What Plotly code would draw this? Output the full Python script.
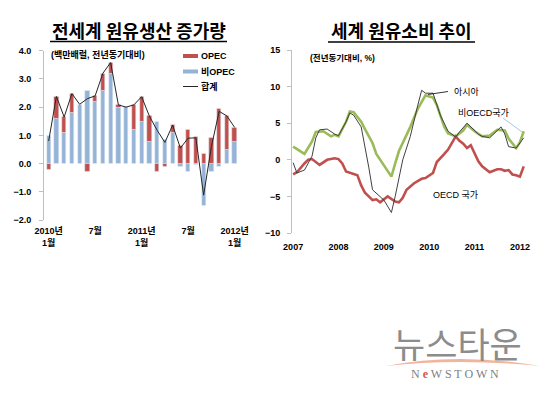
import plotly.graph_objects as go

W, H = 550, 395
def px(x): return x / W
def py(y): return 1 - y / H

# ---------------- Left chart: 전세계 원유생산 증가량 ----------------
prod_months = ["2010-01", "2010-02", "2010-03", "2010-04", "2010-05", "2010-06",
               "2010-07", "2010-08", "2010-09", "2010-10", "2010-11", "2010-12",
               "2011-01", "2011-02", "2011-03", "2011-04", "2011-05", "2011-06",
               "2011-07", "2011-08", "2011-09", "2011-10", "2011-11", "2011-12",
               "2012-01"]
non_opec = [1.00, 1.60, 1.10, 1.80, 2.10, 2.60, 2.20, 2.60, 3.20, 1.97, 2.00, 1.20,
            1.48, 0.77, 1.48, 0.85, 1.10, -0.12, -0.30, -0.05, -1.48, -0.30, -0.10,
            0.48, 0.77]
opec = [-0.20, 0.78, 0.55, 0.68, 0.00, -0.30, 0.20, 0.60, 0.38, 0.13, 0.00, 0.88,
        0.89, 0.91, -0.30, -0.12, 0.28, 0.65, 1.20, 0.95, 0.36, 0.90, 1.95,
        1.20, 0.50]
total = [0.80, 2.38, 1.65, 2.48, 2.10, 2.30, 2.40, 3.20, 3.58, 2.08, 2.00, 2.08,
         2.37, 1.68, 1.18, 0.75, 1.36, 0.55, 0.90, 0.91, -1.12, 0.60, 1.85,
         1.69, 1.28]
prod_tickpos = [0, 6, 12, 18, 24]
prod_ticktext = ["2010년<br>1월", "7월", "2011년<br>1월", "7월", "2012년<br>1월"]
prod_x = list(range(len(prod_months)))

# ---------------- Right chart: 세계 원유소비 추이 ----------------
# x = months since Jan 2007
oecd_m = [0, 1, 3, 4, 5, 7, 9, 11, 12, 13, 14, 16, 17, 18, 19, 20, 21, 22, 23, 25,
          26, 27, 28, 29, 30, 32, 34, 35, 37, 38, 40, 41, 43, 44, 45, 46, 47, 48,
          49, 50, 52, 53, 54, 55, 56, 57, 58, 59, 60, 61]
oecd_v = [-2.0, -1.7, -0.5, 0.0, 0.1, -0.7, 0.0, 0.2, 0.1, -0.5, -1.6, -1.9, -2.1,
          -3.5, -4.5, -5.0, -5.5, -5.4, -5.8, -5.0, -5.4, -5.7, -5.8, -5.2, -4.1,
          -3.2, -2.6, -2.5, -1.8, -0.3, 0.8, 1.4, 3.2, 2.6, 2.2, 1.6, 2.0, 0.9,
          -0.2, -0.9, -1.7, -1.5, -1.3, -1.3, -1.5, -1.4, -2.0, -2.1, -2.3, -0.9]
nonoecd_m = [0, 2, 3, 5, 6, 8, 10, 11, 12, 14, 15, 16, 18, 19, 20, 21, 22, 24, 26,
             27, 28, 31, 33, 35, 37, 38, 40, 41, 43, 45, 46, 48, 50, 52, 54, 56,
             57, 59, 60, 61]
nonoecd_v = [1.8, 1.2, 0.8, 2.5, 3.8, 3.9, 3.2, 3.4, 3.2, 5.2, 6.6, 6.5, 5.2, 4.2,
             3.3, 2.3, 0.8, -0.8, -2.3, -0.5, 1.2, 4.5, 7.0, 8.8, 8.5, 7.5, 4.5,
             3.6, 3.2, 4.0, 4.8, 3.9, 3.2, 3.3, 4.1, 4.0, 2.9, 1.6, 2.4, 3.9]
asia_m = [0, 1, 3, 5, 6, 7, 9, 10, 11, 12, 14, 15, 16, 18, 19, 20, 21, 23, 24, 26,
          27, 29, 31, 33, 34, 35, 37, 39, 41, 43, 44, 46, 47, 49, 50, 52, 54, 55,
          56, 57, 59, 61]
asia_v = [-0.4, -1.8, -1.4, 0.5, 3.0, 4.1, 4.2, 3.8, 3.5, 3.3, 5.2, 6.4, 6.1, 4.5,
          2.0, -1.0, -4.1, -5.0, -5.5, -7.2, -5.0, 0.0, 3.2, 7.5, 9.5, 9.1, 9.1,
          6.0, 3.9, 3.1, 3.8, 5.0, 4.5, 3.5, 3.2, 3.0, 4.0, 4.5, 3.5, 1.8, 1.6, 3.0]
cons_tickpos = [0, 12, 24, 36, 48, 60]
cons_ticktext = ["2007", "2008", "2009", "2010", "2011", "2012"]

RED = "#C0504D"
BLUE = "#95B3D7"
GREEN = "#9BBB59"
AXC = "#BFBFBF"
FONT = "Liberation Sans, Arial, Noto Sans CJK KR"
CJK = "Noto Sans CJK KR"

fig = go.Figure()

fig.add_trace(go.Bar(x=prod_x, y=non_opec, marker_color=BLUE, width=0.55,
                     name="비OPEC", xaxis="x", yaxis="y", showlegend=False))
fig.add_trace(go.Bar(x=prod_x, y=opec, marker_color=RED, width=0.55,
                     name="OPEC", xaxis="x", yaxis="y", showlegend=False))
fig.add_trace(go.Scatter(x=prod_x, y=total, mode="lines",
                         line=dict(color="#262626", width=1),
                         name="합계", xaxis="x", yaxis="y", showlegend=False))

fig.add_trace(go.Scatter(x=nonoecd_m, y=nonoecd_v, mode="lines",
                         line=dict(color=GREEN, width=2.6),
                         name="비OECD국가", xaxis="x2", yaxis="y2", showlegend=False))
fig.add_trace(go.Scatter(x=oecd_m, y=oecd_v, mode="lines",
                         line=dict(color=RED, width=2.6),
                         name="OECD 국가", xaxis="x2", yaxis="y2", showlegend=False))
fig.add_trace(go.Scatter(x=asia_m, y=asia_v, mode="lines",
                         line=dict(color="#404040", width=1),
                         name="아시아", xaxis="x2", yaxis="y2", showlegend=False))

tickfont = dict(family=FONT, size=9, color="#000000", weight="bold")

ldom_y = [py(220), py(50.7)]
rdom_y = [py(233), py(50)]
ldom_x = [px(44), px(238.5)]
rdom_x = [px(292), px(527.5)]

fig.update_layout(
    width=W, height=H,
    margin=dict(l=0, r=0, t=0, b=0),
    paper_bgcolor="white", plot_bgcolor="rgba(0,0,0,0)",
    barmode="relative", bargap=0,
    xaxis=dict(domain=ldom_x, range=[-0.6, 24.5], anchor="y",
               showline=False, showgrid=False, zeroline=False, ticks="",
               tickmode="array", tickvals=prod_tickpos, ticktext=prod_ticktext,
               tickfont=tickfont, ticklabelstandoff=4, automargin=False),
    yaxis=dict(domain=ldom_y, range=[-2, 4], anchor="x",
               showline=True, linecolor=AXC, linewidth=1, showgrid=False,
               zeroline=False, ticks="outside", ticklen=4, tickcolor=AXC,
               dtick=1, tickformat=".1f", tickfont=tickfont,
               ticklabelstandoff=6, automargin=False),
    xaxis3=dict(overlaying="x", anchor="free", position=py(163.3),
                range=[-0.6, 24.5], showline=True, linecolor=AXC, linewidth=1,
                showgrid=False, zeroline=False, ticks="outside", ticklen=3,
                tickcolor=AXC, tickmode="linear", tick0=0.5, dtick=1,
                showticklabels=False, automargin=False),
    xaxis2=dict(domain=rdom_x, range=[-0.3, 62], anchor="y2",
                showline=False, showgrid=False, zeroline=False, ticks="",
                tickmode="array", tickvals=cons_tickpos, ticktext=cons_ticktext,
                tickfont=tickfont, ticklabelstandoff=7, automargin=False),
    yaxis2=dict(domain=rdom_y, range=[-10, 15], anchor="x2",
                showline=True, linecolor=AXC, linewidth=1, showgrid=False,
                zeroline=False, ticks="outside", ticklen=4, tickcolor=AXC,
                dtick=5, tickfont=tickfont, ticklabelstandoff=5,
                automargin=False),
    xaxis4=dict(overlaying="x2", anchor="free", position=py(160),
                range=[-0.3, 62], showline=True, linecolor=AXC, linewidth=1,
                showgrid=False, zeroline=False, ticks="outside", ticklen=3,
                tickcolor=AXC, tickmode="array", tickvals=cons_tickpos,
                showticklabels=False, automargin=False),
)

ann = []
shapes = []

def text(t, x, y, size=9, family=FONT, color="#000", xanchor="left", yanchor="middle"):
    ann.append(dict(text=t, x=px(x), y=py(y), xref="paper", yref="paper",
                    xanchor=xanchor, yanchor=yanchor, showarrow=False,
                    font=dict(family=family, size=size, color=color)))

# titles
text("<b>전세계 원유생산 증가량</b>", 138.5, 30, size=18, family=CJK, xanchor="center")
shapes.append(dict(type="line", xref="paper", yref="paper",
                   x0=px(50), x1=px(227), y0=py(41.5), y1=py(41.5),
                   line=dict(color="#000", width=1.5)))
text("<b>세계 원유소비 추이</b>", 401.5, 30.5, size=18, family=CJK, xanchor="center")
shapes.append(dict(type="line", xref="paper", yref="paper",
                   x0=px(328), x1=px(475), y0=py(42), y1=py(42),
                   line=dict(color="#000", width=1.5)))

# subtitles
text("<b>(백만배럴, 전년동기대비)</b>", 49, 55, size=9)
text("<b>(전년동기대비, %)</b>", 308, 57.5, size=8.5)

# left legend (manual)
leg_items = [("OPEC", RED, "bar", 56), ("비OPEC", BLUE, "bar", 71.5), ("합계", "#262626", "line", 86.5)]
for label, col, kind, yy in leg_items:
    if kind == "bar":
        shapes.append(dict(type="rect", xref="paper", yref="paper",
                           x0=px(183), x1=px(198), y0=py(yy - 2), y1=py(yy + 2),
                           fillcolor=col, line=dict(width=0)))
    else:
        shapes.append(dict(type="line", xref="paper", yref="paper",
                           x0=px(183), x1=px(198), y0=py(yy), y1=py(yy),
                           line=dict(color=col, width=1)))
    text("<b>" + label + "</b>", 199, yy, size=9)

# right series labels
text("아시아", 452, 92, size=9)
shapes.append(dict(type="line", xref="paper", yref="paper",
                   x0=px(428), y0=py(94.5), x1=px(448), y1=py(91.5),
                   line=dict(color="#000", width=0.8)))
text("비OECD국가", 456, 113.5, size=9)
shapes.append(dict(type="line", xref="paper", yref="paper",
                   x0=px(503), y0=py(118), x1=px(522), y1=py(132),
                   line=dict(color="#8DB4E2", width=0.8)))
text("OECD 국가", 431, 195, size=9)

# watermark
text("뉴스타운", 457, 342, size=35, family=CJK, color="#8C8C8C", xanchor="center")
x1, y1, xc, x2, y2 = px(386), py(366), px(457), px(540), py(366)
path = (f"M {x1},{y1} Q {xc},{py(352)} {x2},{y2} "
        f"Q {xc},{py(358)} {x1},{y1} Z")
shapes.append(dict(type="path", xref="paper", yref="paper", path=path,
                   fillcolor="#F2B49A", line=dict(width=0)))
text("N <span style='color:#D9534F'><b>e</b></span> W S T O W N", 455, 374,
     size=12, family="Liberation Serif", color="#7F7F7F", xanchor="center")

fig.update_layout(annotations=ann, shapes=shapes)
fig.write_html("out.html", config={"displayModeBar": False},
               post_script="document.body.style.margin='0px';document.body.style.padding='0px';")
